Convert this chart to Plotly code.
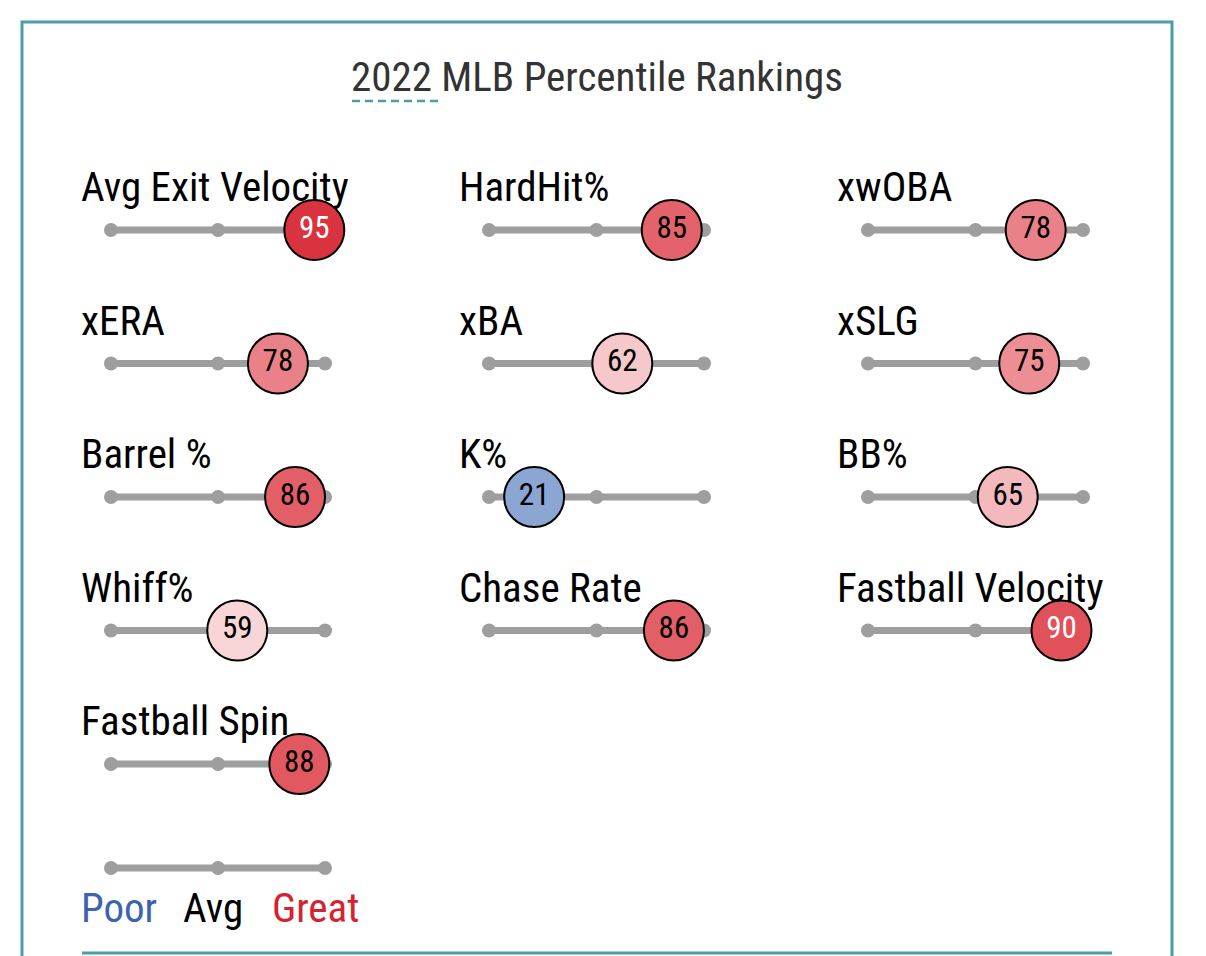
import plotly.graph_objects as go

# ---- data ----
metrics = ["Avg Exit Velocity", "HardHit%", "xwOBA",
           "xERA", "xBA", "xSLG",
           "Barrel %", "K%", "BB%",
           "Whiff%", "Chase Rate", "Fastball Velocity",
           "Fastball Spin"]
percentiles = [95, 85, 78,
               78, 62, 75,
               86, 21, 65,
               59, 86, 90,
               88]
track_ticks = [0, 50, 100]
legend_labels = ["Poor", "Avg", "Great"]
title_text = "2022 MLB Percentile Rankings"

# ---- style / layout ----
W, H = 1206, 956
FONT = "Roboto Condensed, Roboto, sans-serif"
TEAL = "#4E9BAA"
GRAY = "#9E9E9E"
col_track_px = [(111, 325), (489, 704), (868, 1083)]
col_label_px = [79, 457, 835]
row0_px, row_step = 230, 133.5
legend_track_px = 868

colorscale = [[0.0, "#3661AD"], [0.21, "#8BA6D2"], [0.5, "#ECE9EC"],
              [0.59, "#F8D6D8"], [0.62, "#F6C7CB"], [0.65, "#F3B9BD"],
              [0.78, "#EB8188"], [0.85, "#E4636A"], [0.90, "#E15159"],
              [0.95, "#D9333F"], [1.0, "#D22030"]]

fig = go.Figure()

def yrow(py):
    return (py - row0_px) / row_step

legend_row = yrow(legend_track_px)
y_range = [yrow(H), yrow(0)]

for c in range(3):
    l, r = col_track_px[c]
    key = "xaxis" if c == 0 else f"xaxis{c+1}"
    fig.layout[key] = dict(domain=[l / W, r / W], range=[0, 100], visible=False,
                           fixedrange=True, anchor="y")

fig.update_layout(yaxis=dict(range=y_range, domain=[0, 1], visible=False, fixedrange=True))

annotations = []
for i, (m, p) in enumerate(zip(metrics, percentiles)):
    c = i % 3
    row = i // 3
    axname = "x" if c == 0 else f"x{c+1}"
    fig.add_trace(go.Scatter(
        x=track_ticks, y=[row] * len(track_ticks), xaxis=axname, yaxis="y",
        mode="lines+markers", line=dict(color=GRAY, width=7),
        marker=dict(color=GRAY, size=14), hoverinfo="skip", showlegend=False,
        cliponaxis=False))
    fig.add_trace(go.Scatter(
        x=[p], y=[row], xaxis=axname, yaxis="y", mode="markers+text",
        marker=dict(size=60, color=[p], colorscale=colorscale, cmin=0, cmax=100,
                    line=dict(color="black", width=2)),
        text=[str(p)], textposition="middle center",
        textfont=dict(family=FONT, size=31, color="white" if p >= 90 else "black"),
        showlegend=False, cliponaxis=False, hoverinfo="skip"))
    label_py = row0_px + row * row_step - 43
    annotations.append(dict(
        text=m, x=col_label_px[c] / W, y=1 - label_py / H, xref="paper", yref="paper",
        xanchor="left", yanchor="middle", showarrow=False,
        font=dict(family=FONT, size=41, color="black")))

fig.add_trace(go.Scatter(
    x=track_ticks, y=[legend_row] * len(track_ticks), xaxis="x", yaxis="y",
    mode="lines+markers", line=dict(color=GRAY, width=7),
    marker=dict(color=GRAY, size=14), hoverinfo="skip", showlegend=False,
    cliponaxis=False))

legend_colors = ["#3D63B0", "black", "#D62230"]
legend_px = [119, 213, 316]
for lab, colr, px in zip(legend_labels, legend_colors, legend_px):
    annotations.append(dict(
        text=lab, x=px / W, y=1 - 908 / H, xref="paper", yref="paper",
        xanchor="center", yanchor="middle", showarrow=False,
        font=dict(family=FONT, size=41, color=colr)))

annotations.append(dict(
    text=title_text, x=597 / W, y=1 - 77 / H, xref="paper", yref="paper",
    xanchor="center", yanchor="middle", showarrow=False,
    font=dict(family=FONT, size=41, color="#333333")))

shapes = [
    dict(type="rect", xref="paper", yref="paper", x0=22 / W, x1=1172 / W,
         y0=-20 / H, y1=1 - 22 / H, line=dict(color=TEAL, width=3)),
    dict(type="line", xref="paper", yref="paper", x0=352 / W, x1=442 / W,
         y0=1 - 101 / H, y1=1 - 101 / H,
         line=dict(color=TEAL, width=2.5, dash="8px,5px")),
    dict(type="line", xref="paper", yref="paper", x0=82 / W, x1=1112 / W,
         y0=1 - 953 / H, y1=1 - 953 / H, line=dict(color=TEAL, width=3)),
]

fig.update_layout(
    width=W, height=H, margin=dict(l=0, r=0, t=0, b=0),
    paper_bgcolor="white", plot_bgcolor="white",
    annotations=annotations, shapes=shapes, showlegend=False,
)

fig.write_html("out.html", include_plotlyjs=True, config={"displayModeBar": False},
               post_script="document.body.style.margin='0';document.body.style.overflow='hidden';")
